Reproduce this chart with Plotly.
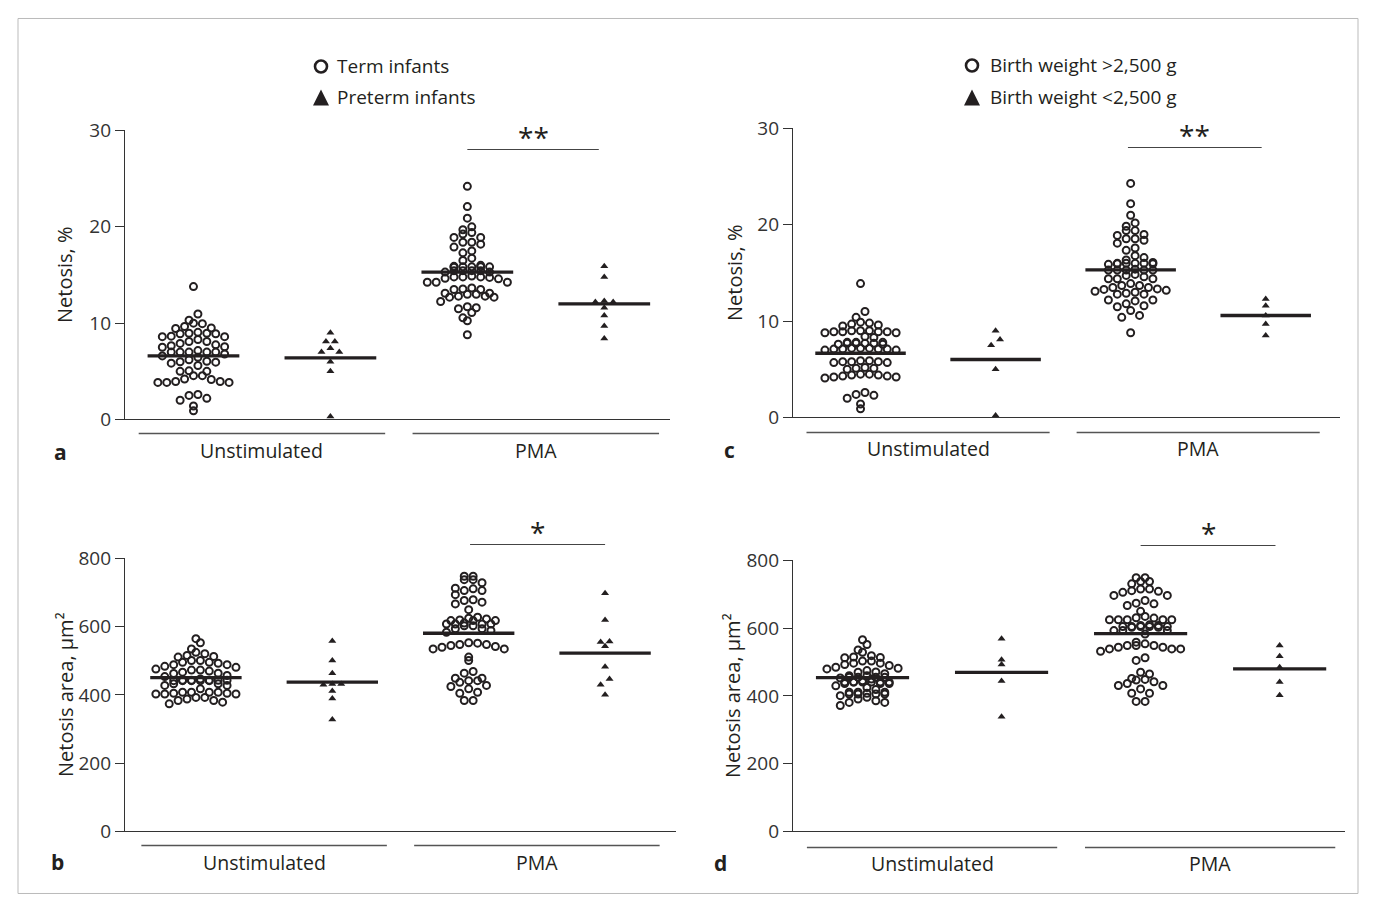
import math
import plotly.graph_objects as go

W, H = 1375, 909

# ---------------- data ----------------
categories = ["Unstimulated", "PMA"]
legend_a = ["Term infants", "Preterm infants"]
legend_c = ["Birth weight >2,500 g", "Birth weight <2,500 g"]

# Panel a: Netosis, % (term vs preterm)
a_term_unstim = [13.8, 10.95, 10.3, 9.95, 9.5, 9.45, 9.65, 10.0,
                 8.95, 8.9, 8.65, 8.6, 8.3, 8.6, 8.9, 8.95, 9.05,
                 7.65, 7.5, 7.9, 8.1, 8.1, 7.55, 7.75,
                 7.0, 7.15, 7.0, 7.0, 7.0, 6.8, 7.0,
                 6.45, 6.6,
                 6.2, 6.0, 6.05, 5.95, 5.6, 5.85,
                 5.0, 5.0, 5.05,
                 4.55, 4.2, 3.95, 3.85, 3.85, 3.85, 3.95, 4.15, 4.55,
                 2.6, 2.2, 2.0, 2.5, 1.4, 0.9]
a_preterm_unstim = [9.0, 8.1, 8.1, 7.4, 7.0, 7.0, 6.0, 5.0, 0.3]
a_term_pma = [24.2, 22.1, 20.9, 20.0, 19.7, 19.25, 18.9, 18.4, 18.4, 18.9, 19.4,
              18.2, 17.9, 17.5, 17.3, 16.75, 16.5,
              15.85, 15.85, 15.85, 15.85, 16.0, 15.8, 15.9,
              15.45, 15.45, 15.45, 15.45, 15.3, 15.3,
              14.75, 14.6, 14.8, 14.8, 14.8, 14.9, 14.65,
              14.25, 13.65, 13.55, 14.25, 14.25,
              13.5, 13.1, 13.0, 12.8, 12.7, 12.7, 12.8, 13.0, 13.1, 13.5,
              12.25, 11.7, 11.5, 11.6, 11.1, 10.55, 10.25, 8.8]
a_preterm_pma = [15.9, 14.8, 12.2, 12.2, 12.3, 11.6, 10.8, 9.7, 8.4]
a_lines = [6.6, 6.4, 15.3, 12.0]

# Panel b: Netosis area, um2 (term vs preterm)
b_term_unstim = [565, 553, 535, 525, 521, 513, 501, 496, 493, 489, 489, 496, 501, 511, 516,
                 484, 473, 476, 473, 470, 481, 454, 447, 463, 464, 467, 457,
                 443, 442, 443, 442, 443, 442, 443, 442, 443, 442,
                 428, 433, 433, 428, 418, 408, 405, 408, 403, 403, 405, 403, 408, 408,
                 393, 384, 393, 384, 388, 374, 379]
b_preterm_unstim = [558, 501, 464, 432, 430, 432, 412, 390, 328]
b_term_pma = [748, 748, 738, 738, 729, 711, 706, 706, 713, 694, 677, 679, 672, 667, 650,
              625, 620, 618, 618, 618, 623, 628,
              608, 608, 603, 594, 589, 594, 608, 603, 608, 611, 584,
              552, 548, 540, 535, 535, 542, 545, 548, 553,
              501, 511, 469, 464, 449, 442, 437, 442, 449, 425, 418, 428, 405, 408, 384, 384]
b_preterm_pma = [698, 620, 555, 557, 543, 483, 447, 430, 401]
b_lines = [451, 438, 581, 523]

# Panel c: Netosis, % (birth weight)
c_term_unstim = [13.9, 11.0, 10.4, 9.9, 9.8, 9.7, 9.6, 9.5,
                 9.0, 8.9, 8.9, 8.8, 8.9, 9.0, 8.8, 8.9, 9.0, 8.4, 8.3,
                 7.8, 7.7, 7.7, 7.6, 7.7, 7.8, 7.7, 7.6, 7.8,
                 7.2, 7.1, 7.0, 7.1, 7.2, 7.1, 7.0, 7.1, 7.2,
                 5.9, 5.8, 5.7, 5.8, 5.9, 5.8, 5.7,
                 5.2, 5.1, 5.0, 5.1,
                 4.5, 4.4, 4.3, 4.2, 4.1, 4.2, 4.3, 4.4, 4.5,
                 2.6, 2.3, 2.0, 2.4, 1.4, 0.9]
c_preterm_unstim = [9.0, 8.1, 7.5, 5.0, 0.2]
c_term_pma = [24.3, 22.2, 21.0, 20.2, 19.85, 19.4, 19.0, 18.55, 18.55, 18.9, 19.4, 18.4, 18.1,
              17.6, 17.35, 16.8, 16.6,
              15.95, 15.9, 16.1, 16.0, 16.0, 16.0, 16.0, 16.35, 15.95,
              15.3, 15.3, 15.3, 15.3, 15.3, 15.4,
              14.85, 14.6, 14.4, 14.4, 14.4, 14.75, 13.7, 13.9, 13.7,
              13.5, 13.35, 13.1, 12.9, 12.8, 12.8, 13.0, 13.2, 13.3, 13.5,
              12.2, 11.8, 11.5, 11.6, 12.1, 12.2, 11.1, 10.6, 10.4, 8.8]
c_preterm_pma = [12.3, 11.6, 10.6, 9.7, 8.5]
c_lines = [6.67, 6.02, 15.33, 10.59]

# Panel d: Netosis area, um2 (birth weight)
d_term_unstim = [566, 552, 536, 529, 519, 514, 515, 503, 497, 493, 497, 503, 513,
                 480, 471, 482, 490, 466, 475, 485, 470,
                 455, 450, 453, 455, 455, 460, 460, 455,
                 445, 441, 441, 437, 441, 437, 441, 437, 441, 441, 441, 430, 425,
                 419, 411, 406, 406, 401, 406, 408, 406, 411, 411,
                 396, 381, 391, 381, 386, 372]
d_preterm_unstim = [569, 507, 493, 444, 339]
d_term_pma = [749, 749, 738, 738, 731, 711, 716, 706, 709, 716, 697, 697, 672, 682, 674, 667, 650,
              635, 625, 625, 625, 625, 625, 630, 631,
              608, 608, 603, 605, 605, 605, 605, 603, 605, 610, 593, 593, 583, 593,
              549, 544, 539, 539, 559, 554, 539, 544, 549, 549, 532, 505, 513,
              470, 465, 452, 447, 437, 442, 449, 421, 431, 431, 408, 408, 384, 384]
d_preterm_pma = [549, 517, 485, 441, 402]
d_lines = [454, 470, 584, 480]

# ---------------- styling / layout ----------------
FONT = "Open Sans"
INK = "#231f20"
AXC = "#333333"
# measured capture mapping (photo y = SY * page y + OY)
SY, OY = 0.9714, 12.5

panels = [
    dict(key="a", n="", xp=(125, 670), yp=(130, 419), xr=(-0.5, 3.48), yr=(0, 30),
         tv=[0, 10, 20, 30], title="Netosis, %", tx=65,
         groups=[a_term_unstim, a_preterm_unstim, a_term_pma, a_preterm_pma], lines=a_lines,
         star="**", sig=(2.0, 2.96), sig_y=149, star_y=137, under_y=433, lab_y=450, letter=(60, 452)),
    dict(key="b", n="2", xp=(125, 676), yp=(558, 831), xr=(-0.52, 3.52), yr=(0, 800),
         tv=[0, 200, 400, 600, 800], title="Netosis area, µm²", tx=66,
         groups=[b_term_unstim, b_preterm_unstim, b_term_pma, b_preterm_pma], lines=b_lines,
         star="*", sig=(2.01, 3.0), sig_y=544, star_y=532, under_y=845, lab_y=862, letter=(57, 862)),
    dict(key="c", n="3", xp=(793, 1340), yp=(128, 417), xr=(-0.5, 3.55), yr=(0, 30),
         tv=[0, 10, 20, 30], title="Netosis, %", tx=735,
         groups=[c_term_unstim, c_preterm_unstim, c_term_pma, c_preterm_pma], lines=c_lines,
         star="**", sig=(1.98, 2.97), sig_y=147, star_y=135, under_y=432, lab_y=448, letter=(729, 450)),
    dict(key="d", n="4", xp=(793, 1345), yp=(560, 831), xr=(-0.5, 3.47), yr=(0, 800),
         tv=[0, 200, 400, 600, 800], title="Netosis area, µm²", tx=733,
         groups=[d_term_unstim, d_preterm_unstim, d_term_pma, d_preterm_pma], lines=d_lines,
         star="*", sig=(2.0, 2.97), sig_y=545, star_y=533, under_y=847, lab_y=863, letter=(720, 863)),
]


def px(x):
    return x / W


def py(y):
    return 1 - ((y - OY) / SY) / H


def dot_layout(values, ypx, d, hb, cap=10):
    """Prism-like scatter dot layout: values are binned on a fixed grid of
    hb screen pixels; each bin is spread as a centred row (spacing d px)."""
    bins = {}
    for i, v in enumerate(values):
        bins.setdefault(int(math.floor(v * ypx / hb)), []).append(i)
    rows = []
    for k in sorted(bins):
        members = sorted(bins[k], key=lambda i: values[i])
        if len(members) > cap:
            half = (len(members) + 1) // 2
            rows.append((members[:half], 0.0))
            rows.append((members[half:], d / 2))
        else:
            rows.append((members, 0.0))
    offs = [0.0] * len(values)
    for members, shift in rows:
        k = len(members)
        slots = sorted([(j - (k - 1) / 2) for j in range(k)], key=lambda s: (abs(s), -s))
        for s, i in zip(slots, sorted(members, key=lambda i: -values[i])):
            offs[i] = s * d + shift
    return offs


fig = go.Figure()
shapes = []
annotations = []
layout_axes = {}

for p in panels:
    n = p["n"]
    xa, ya = "x" + n, "y" + n
    x0, x1 = p["xp"]
    y0, y1 = p["yp"]
    xppu = (x1 - x0) / (p["xr"][1] - p["xr"][0])
    yppu = (y1 - y0) / (p["yr"][1] - p["yr"][0])

    def dx2px(v, p=p, xppu=xppu):
        return p["xp"][0] + (v - p["xr"][0]) * xppu

    layout_axes["xaxis" + n] = dict(
        domain=[px(x0), px(x1)], range=list(p["xr"]), anchor=ya,
        showline=True, linecolor=AXC, linewidth=1.3, ticks="", showticklabels=False,
        showgrid=False, zeroline=False, fixedrange=True)
    layout_axes["yaxis" + n] = dict(
        domain=[py(y1), py(y0)], range=list(p["yr"]), anchor=xa,
        showline=True, linecolor=AXC, linewidth=1.3, ticks="outside", ticklen=9,
        tickwidth=1.3, tickcolor=AXC, tickvals=p["tv"],
        tickfont=dict(family=FONT, size=19, color="#333"),
        showgrid=False, zeroline=False, fixedrange=True)

    for gi, vals in enumerate(p["groups"]):
        is_term = gi % 2 == 0
        d = 8.9
        offs = dot_layout(vals, yppu, d, 9.0)
        xs = [gi + o / xppu for o in offs]
        if is_term:
            marker = dict(symbol="circle-open", size=7, color=INK, line=dict(width=2.0, color=INK))
        else:
            marker = dict(symbol="triangle-up", size=7, color=INK, line=dict(width=0))
        fig.add_trace(go.Scatter(x=xs, y=vals, mode="markers", marker=marker,
                                 xaxis=xa, yaxis=ya, cliponaxis=False,
                                 showlegend=False, hoverinfo="skip"))
    # summary lines
    for gi, v in enumerate(p["lines"]):
        fig.add_trace(go.Scatter(x=[gi - 0.335, gi + 0.335], y=[v, v], mode="lines",
                                 line=dict(color=INK, width=3.3),
                                 xaxis=xa, yaxis=ya, showlegend=False, hoverinfo="skip"))

    # category underlines and labels
    for ci, cat in enumerate(categories):
        lx0 = dx2px(2 * ci - 0.4)
        lx1 = dx2px(2 * ci + 1.4)
        shapes.append(dict(type="line", xref="paper", yref="paper",
                           x0=px(lx0), x1=px(lx1), y0=py(p["under_y"]), y1=py(p["under_y"]),
                           line=dict(color="#555", width=1.3)))
        annotations.append(dict(x=px(dx2px(2 * ci + 0.5)), y=py(p["lab_y"]), xref="paper", yref="paper",
                                text=cat, showarrow=False, xanchor="center", yanchor="middle",
                                font=dict(family=FONT, size=19.5, color=INK)))
    # significance
    s0, s1 = p["sig"]
    shapes.append(dict(type="line", xref="paper", yref="paper",
                       x0=px(dx2px(s0)), x1=px(dx2px(s1)), y0=py(p["sig_y"]), y1=py(p["sig_y"]),
                       line=dict(color="#444", width=1.2)))
    annotations.append(dict(x=px(dx2px((s0 + s1) / 2)), y=py(p["star_y"]), xref="paper", yref="paper",
                            text=p["star"], showarrow=False, xanchor="center", yanchor="middle",
                            font=dict(family=FONT, size=28, color=INK)))
    # axis title
    annotations.append(dict(x=px(p["tx"]), y=py((y0 + y1) / 2), xref="paper", yref="paper",
                            text=p["title"], textangle=-90, showarrow=False,
                            xanchor="center", yanchor="middle",
                            font=dict(family=FONT, size=20, color=INK)))
    # panel letter
    annotations.append(dict(x=px(p["letter"][0]), y=py(p["letter"][1]), xref="paper", yref="paper",
                            text="<b>%s</b>" % p["key"], showarrow=False,
                            xanchor="center", yanchor="middle",
                            font=dict(family=FONT, size=21, color=INK)))


# legends (drawn as shapes + text)
def legend(cx, cy1, cy2, tx, labels):
    r = 6
    shapes.append(dict(type="circle", xref="paper", yref="paper",
                       x0=px(cx - r), x1=px(cx + r), y0=py(cy1 + r), y1=py(cy1 - r),
                       line=dict(color=INK, width=2.6)))
    tw, th = 8, 16
    path = "M %f %f L %f %f L %f %f Z" % (px(cx - tw), py(cy2 + th / 2), px(cx + tw), py(cy2 + th / 2),
                                          px(cx), py(cy2 - th / 2))
    shapes.append(dict(type="path", xref="paper", yref="paper", path=path,
                       fillcolor=INK, line=dict(color=INK, width=0)))
    for lab, cy in zip(labels, (cy1, cy2)):
        annotations.append(dict(x=px(tx), y=py(cy), xref="paper", yref="paper", text=lab,
                                showarrow=False, xanchor="left", yanchor="middle",
                                font=dict(family=FONT, size=19, color=INK)))


legend(321, 66, 97, 335, legend_a)
legend(972, 65, 97, 988, legend_c)

# outer frame
shapes.append(dict(type="rect", xref="paper", yref="paper", x0=px(18), x1=px(1358),
                   y0=py(893), y1=py(18), line=dict(color="#bbbbbb", width=1)))

fig.update_layout(width=W, height=H, margin=dict(l=0, r=0, t=0, b=0),
                  paper_bgcolor="white", plot_bgcolor="white",
                  shapes=shapes, annotations=annotations, showlegend=False,
                  font=dict(family=FONT, color=INK), **layout_axes)

fig.write_html("out.html", config={"displayModeBar": False},
               post_script="document.body.style.margin='0';document.body.style.overflow='hidden';")
